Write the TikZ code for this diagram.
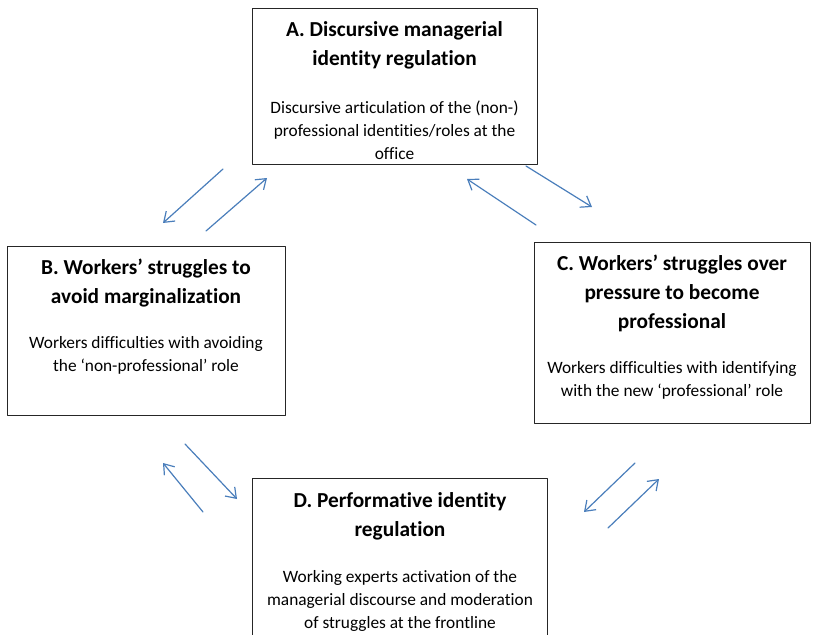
\documentclass[tikz,border=0pt]{standalone}
\usepackage{fontspec}
\setmainfont{Carlito}[Ligatures=NoCommon]
\usetikzlibrary{arrows.meta}
\definecolor{arrowblue}{HTML}{4A7EBB}

\begin{document}
\begin{tikzpicture}[line cap=round,line join=round,>={Straight Barb[length=7pt,width=10pt]},x=0.75pt,y=-0.75pt,
    box/.style={draw=black!85,line width=0.75pt,rectangle,inner sep=0pt,anchor=north west},
    heading/.style={align=center,inner sep=0pt,font=\fontsize{16}{21.75}\selectfont\bfseries},
    body/.style={align=center,inner sep=0pt,font=\fontsize{13}{17.25}\selectfont},
    link/.style={->,color=arrowblue,line width=0.9pt}]
    \clip (0,0) rectangle (814,635);
    % the four boxes
    \node[box,minimum width=213.75pt,minimum height=117pt] (a) at (252,8) {};
    \node[box,minimum width=208.5pt,minimum height=126.75pt] (b) at (7,246) {};
    \node[box,minimum width=207pt,minimum height=135.75pt] (c) at (534,242) {};
    \node[box,minimum width=221.25pt,minimum height=136.5pt] (d) at (252,478) {};
    % texts
    \node[heading] (ahead) at (394.5,45) {A. Discursive managerial\\identity regulation};
    \node[body] (abody) at (394.5,130) {Discursive articulation of the (non-)\\professional identities/roles at the\\office};
    \node[heading] (bhead) at (146,283) {B. Workers’ struggles to\\avoid marginalization};
    \node[body] (bbody) at (146,355) {Workers difficulties with avoiding\\the ‘non-professional’ role};
    \node[heading] (chead) at (672,293) {C. Workers’ struggles over\\pressure to become\\professional};
    \node[body] (cbody) at (672,380) {Workers difficulties with identifying\\with the new ‘professional’ role};
    \node[heading] (dhead) at (400,516) {D. Performative identity\\regulation};
    \node[body] (dbody) at (400,601) {Working experts activation of the\\managerial discourse and moderation\\of struggles at the frontline};
    % arrow ends
    \coordinate (ab1) at (223,169);
    \coordinate (ab2) at (163,223);
    \coordinate (ab3) at (206,231);
    \coordinate (ab4) at (267,178);
    \coordinate (ac1) at (526,166);
    \coordinate (ac2) at (592,207);
    \coordinate (ac3) at (536,225);
    \coordinate (ac4) at (467,179);
    \coordinate (bd1) at (185,444);
    \coordinate (bd2) at (237,499);
    \coordinate (bd3) at (203,512);
    \coordinate (bd4) at (163,463);
    \coordinate (cd1) at (635,463);
    \coordinate (cd2) at (584,512);
    \coordinate (cd3) at (608,528);
    \coordinate (cd4) at (659,479);
    \draw[link] (ab1) -- (ab2);
    \draw[link] (ab3) -- (ab4);
    \draw[link] (ac1) -- (ac2);
    \draw[link] (ac3) -- (ac4);
    \draw[link] (bd1) -- (bd2);
    \draw[link] (bd3) -- (bd4);
    \draw[link] (cd1) -- (cd2);
    \draw[link] (cd3) -- (cd4);
\end{tikzpicture}
\end{document}
